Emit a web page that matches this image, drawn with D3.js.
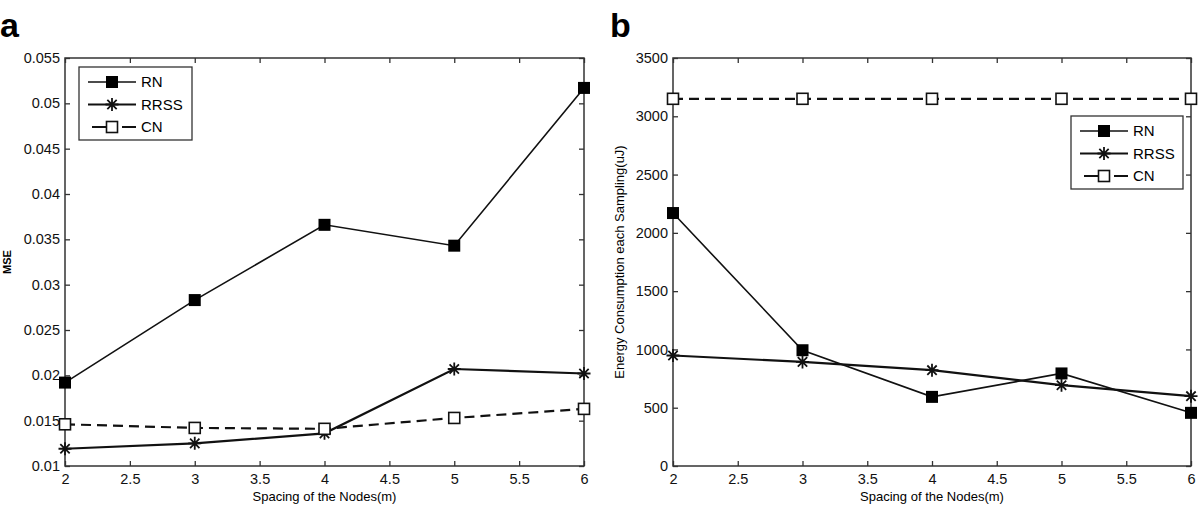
<!DOCTYPE html>
<html>
<head>
<meta charset="utf-8">
<script src="https://cdn.jsdelivr.net/npm/d3@7"></script>
<style>
  body { margin: 0; background: #fff; }
  svg { font-family: "Liberation Sans", Arial, sans-serif; }
</style>
</head>
<body>
<div id="chart"></div>
<script>
// spacing of the nodes (m)
const spacing = [2, 3, 4, 5, 6];

// panel a: MSE
const mseRN   = [0.0192, 0.0283, 0.0366, 0.0343, 0.0517];
const mseRRSS = [0.0119, 0.0125, 0.0136, 0.0207, 0.0202];
const mseCN   = [0.0146, 0.0142, 0.0141, 0.0153, 0.0163];

// panel b: energy consumption each sampling (uJ)
const energyRN   = [2170, 993, 593, 794, 456];
const energyRRSS = [948, 893, 822, 693, 599];
const energyCN   = [3150, 3150, 3150, 3150, 3150];

const xTicks = [2, 2.5, 3, 3.5, 4, 4.5, 5, 5.5, 6];
const mseTicks = [0.01, 0.015, 0.02, 0.025, 0.03, 0.035, 0.04, 0.045, 0.05, 0.055];
const energyTicks = [0, 500, 1000, 1500, 2000, 2500, 3000, 3500];

const seriesNames = ["RN", "RRSS", "CN"];

const svg = d3.select("#chart").append("svg")
    .attr("width", 1200)
    .attr("height", 507);

// marker shapes
function drawMarker(g, name, x, y) {
    if (name === "RN") {
        g.append("rect")
            .attr("x", x - 6).attr("y", y - 6)
            .attr("width", 12).attr("height", 12)
            .attr("fill", "#000");
    } else if (name === "CN") {
        g.append("rect")
            .attr("x", x - 5.5).attr("y", y - 5.5)
            .attr("width", 11).attr("height", 11)
            .attr("fill", "#fff").attr("stroke", "#111").attr("stroke-width", 1.6);
    } else {
        let r = 6.5, d = r * 0.72;
        g.append("path")
            .attr("d", `M${x - r},${y}H${x + r}M${x},${y - r}V${y + r}` +
                       `M${x - d},${y - d}L${x + d},${y + d}M${x - d},${y + d}L${x + d},${y - d}`)
            .attr("stroke", "#111").attr("stroke-width", 1.8);
    }
}

const lineStyle = {
    RN:   {width: 1.6, dash: null},
    RRSS: {width: 2.2, dash: null},
    CN:   {width: 2.2, dash: "10,6"}
};

function panel(opts) {
    let {left, right, top, bottom, yDomain, yTicks, yFormat, series, yTitle, yTitleX, letter, letterX, legend} = opts;

    let x = d3.scaleLinear().domain([2, 6]).range([left, right]);
    let y = d3.scaleLinear().domain(yDomain).range([bottom, top]);
    let g = svg.append("g");

    // box
    g.append("rect")
        .attr("x", left).attr("y", top)
        .attr("width", right - left).attr("height", bottom - top)
        .attr("fill", "none").attr("stroke", "#333").attr("stroke-width", 1.5);

    // axes, ticks pointing in, mirrored on top and right
    g.append("g").attr("transform", `translate(0,${bottom})`)
        .call(d3.axisBottom(x).tickValues(xTicks).tickSizeInner(-5).tickSizeOuter(0).tickPadding(8)
            .tickFormat(d3.format("")));
    g.append("g").attr("transform", `translate(${left},0)`)
        .call(d3.axisLeft(y).tickValues(yTicks).tickSizeInner(-5).tickSizeOuter(0).tickPadding(5)
            .tickFormat(yFormat));
    g.append("g").attr("transform", `translate(0,${top})`)
        .call(d3.axisTop(x).tickValues(xTicks).tickSizeInner(-5).tickSizeOuter(0).tickFormat(""));
    g.append("g").attr("transform", `translate(${right},0)`)
        .call(d3.axisRight(y).tickValues(yTicks).tickSizeInner(-5).tickSizeOuter(0).tickFormat(""));

    g.selectAll(".domain").remove();
    g.selectAll(".tick line").attr("stroke", "#333").attr("stroke-width", 1.3);
    g.selectAll(".tick text").attr("fill", "#111").style("font-size", "14.5px")
        .style("font-family", "Liberation Sans, Arial, sans-serif");

    // series
    series.forEach(s => {
        let st = lineStyle[s.name];
        let line = d3.line().x((d, i) => x(spacing[i])).y(d => y(d));
        g.append("path")
            .datum(s.values)
            .attr("d", line)
            .attr("fill", "none")
            .attr("stroke", "#111")
            .attr("stroke-width", st.width)
            .attr("stroke-dasharray", st.dash);
    });
    series.forEach(s => {
        s.values.forEach((v, i) => drawMarker(g, s.name, x(spacing[i]), y(v)));
    });

    // titles
    g.append("text")
        .attr("x", (left + right) / 2).attr("y", 501)
        .attr("text-anchor", "middle")
        .style("font-size", "13px")
        .text("Spacing of the Nodes(m)");
    g.append("text")
        .attr("transform", `translate(${yTitleX},${(top + bottom) / 2}) rotate(-90)`)
        .attr("text-anchor", "middle")
        .style("font-size", opts.yTitleSize)
        .style("font-weight", opts.yTitleWeight)
        .text(yTitle);
    g.append("text")
        .attr("x", letterX).attr("y", 37)
        .style("font-size", "34px").style("font-weight", "bold")
        .text(letter);

    // legend
    let lg = g.append("g");
    lg.append("rect")
        .attr("x", legend.x).attr("y", legend.y)
        .attr("width", legend.w).attr("height", legend.h)
        .attr("fill", "#fff").attr("stroke", "#333").attr("stroke-width", 1.3);
    seriesNames.forEach((name, i) => {
        let cy = legend.y + 15 + i * 22.5;
        let x0 = legend.x + 9, x1 = legend.x + 57, xm = (x0 + x1) / 2;
        let st = lineStyle[name];
        if (name === "CN") {
            lg.append("path").attr("d", `M${x0 + 4},${cy}H${xm - 6}M${xm + 10},${cy}H${x1}`)
                .attr("stroke", "#111").attr("stroke-width", st.width);
        } else {
            lg.append("line").attr("x1", x0).attr("x2", x1).attr("y1", cy).attr("y2", cy)
                .attr("stroke", "#111").attr("stroke-width", st.width);
        }
        drawMarker(lg, name, xm, cy);
        lg.append("text")
            .attr("x", x1 + 5).attr("y", cy)
            .attr("dy", "0.36em")
            .style("font-size", "15px")
            .text(name);
    });
}

panel({
    left: 65, right: 584, top: 58, bottom: 466,
    yDomain: [0.01, 0.055], yTicks: mseTicks, yFormat: d3.format(""),
    series: [{name: "RN", values: mseRN}, {name: "RRSS", values: mseRRSS}, {name: "CN", values: mseCN}],
    yTitle: "MSE", yTitleX: 11, yTitleSize: "11px", yTitleWeight: "bold",
    letter: "a", letterX: 0,
    legend: {x: 79, y: 67, w: 113, h: 73}
});

panel({
    left: 673, right: 1191, top: 58, bottom: 466,
    yDomain: [0, 3500], yTicks: energyTicks, yFormat: d3.format(""),
    series: [{name: "RN", values: energyRN}, {name: "RRSS", values: energyRRSS}, {name: "CN", values: energyCN}],
    yTitle: "Energy Consumption each Sampling(uJ)", yTitleX: 624, yTitleSize: "13px", yTitleWeight: "normal",
    letter: "b", letterX: 610,
    legend: {x: 1071, y: 116, w: 112, h: 73}
});
</script>
</body>
</html>
